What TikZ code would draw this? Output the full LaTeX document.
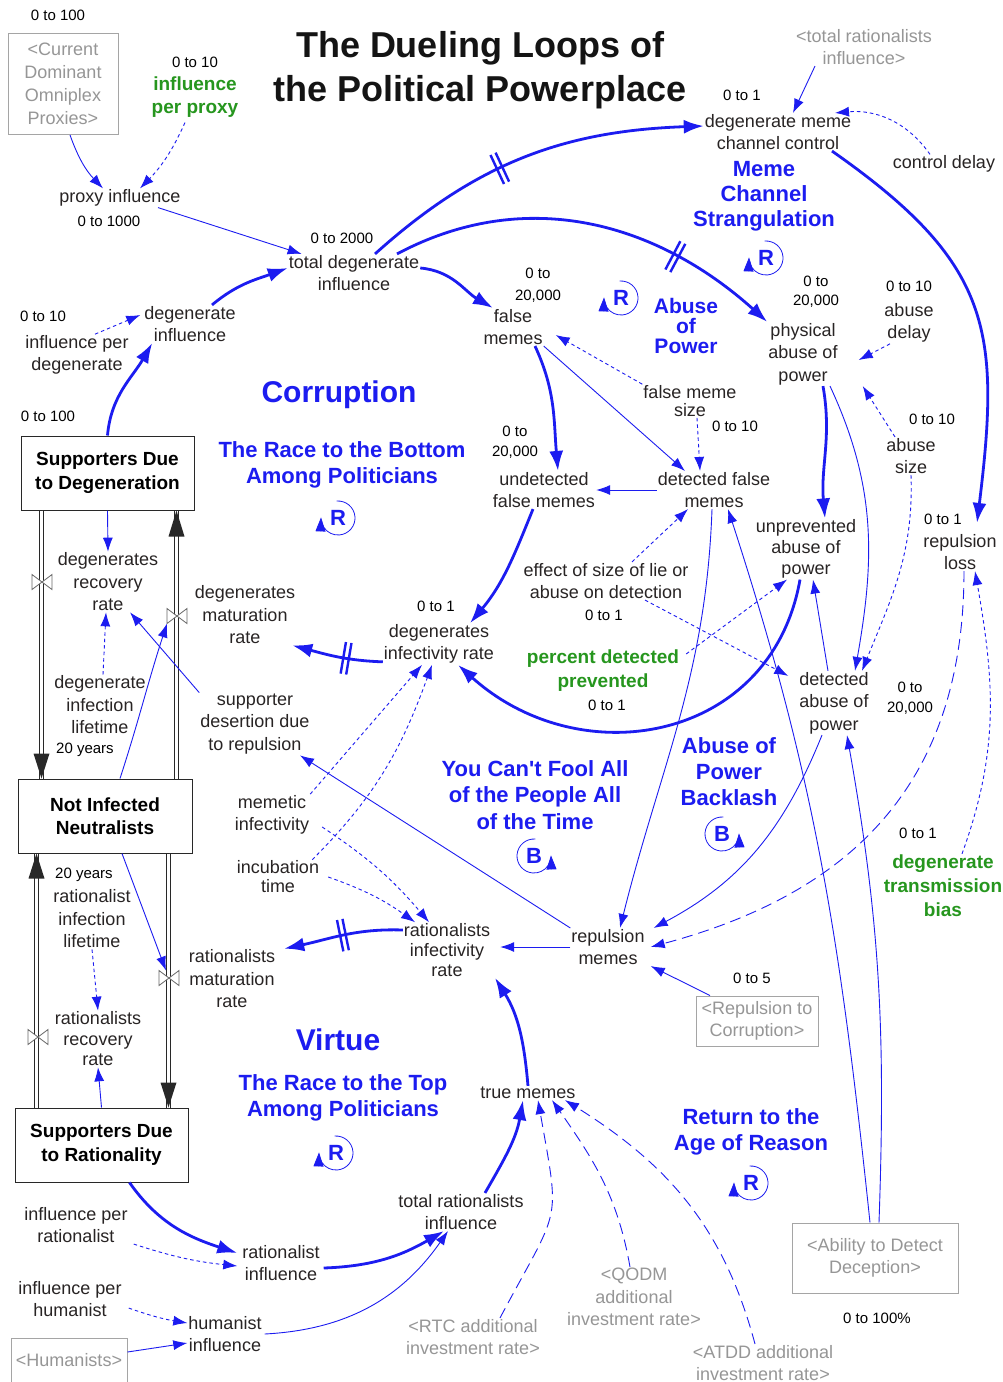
\documentclass[tikz,border=0pt]{standalone}
\usepackage{fontspec}
\setmainfont{Liberation Sans}[Ligatures=TeXOff]
\usetikzlibrary{arrows.meta,decorations.markings}

\definecolor{lblue}{RGB}{28,28,240}
\definecolor{vtext}{RGB}{40,36,36}
\definecolor{grn}{RGB}{38,150,30}
\definecolor{shade}{RGB}{150,150,150}
\definecolor{shadebox}{RGB}{165,165,165}
\definecolor{pipeink}{RGB}{40,40,40}

\tikzset{
  x=1pt, y=1pt,
  varb/.style={text=vtext, align=center, inner sep=1pt, font=\fontsize{18}{22.5}\selectfont},
  rng/.style={text=black, align=center, inner sep=1pt, font=\fontsize{15}{19}\selectfont},
  ghost/.style={varb, text=shade},
  ghostbox/.style={ghost, draw=shadebox, line width=1pt, inner sep=0pt},
  stockbox/.style={draw=pipeink, line width=1pt, fill=white, text=black, align=center,
    font=\bfseries\fontsize{19}{23.5}\selectfont, minimum width=173pt, minimum height=74pt, inner sep=0pt},
  loopname/.style={text=lblue, align=center, inner sep=1pt, font=\bfseries\fontsize{22}{26}\selectfont},
  bigloop/.style={text=lblue, inner sep=1pt, font=\bfseries\fontsize{30}{34}\selectfont},
  constv/.style={text=grn, align=center, inner sep=1pt, font=\bfseries\fontsize{19}{24}\selectfont},
  lk/.style={draw=lblue, line width=0.9pt, -{Latex[length=14pt,width=10pt]}},
  dlk/.style={lk, dash pattern=on 3.5pt off 3pt},
  ldlk/.style={lk, dash pattern=on 11pt off 6pt},
  tlk/.style={draw=lblue, line width=2.8pt, -{Latex[length=20pt,width=14pt]}},
  delaymark/.style={postaction={decorate, decoration={markings, mark=at position #1 with
    {\draw[lblue, line width=2.4pt, solid, arrows=-] (-2.8,-16)--(-2.8,16) (2.8,-16)--(2.8,16);}}}},
  pipe/.style={draw=pipeink, line width=1pt, double=white, double distance=3.2pt},
  valvebox/.style={minimum width=20pt, minimum height=15pt, inner sep=0pt, outer sep=0pt},
  loopletter/.style={text=lblue, inner sep=0pt, font=\bfseries\fontsize{22}{24}\selectfont},
}

% reinforcing loop marker: letter with a clockwise arrow ending on its left
\newcommand\loopR[3]{%
  \node[loopletter] (#1) at (#2,#3) {R};
  \draw[lblue, line width=0.8pt, -{Triangle[length=14pt,width=10pt]}]
    ([shift={(95:17)}]#1.center) arc[start angle=95, end angle=-182, radius=17];}
% balancing loop marker: letter with a counter-clockwise arrow ending on its right
\newcommand\loopB[3]{%
  \node[loopletter] (#1) at (#2,#3) {B};
  \draw[lblue, line width=0.8pt, -{Triangle[length=14pt,width=10pt]}]
    ([shift={(85:17)}]#1.center) arc[start angle=85, end angle=362, radius=17];}

\begin{document}
\begin{tikzpicture}
\fill[white] (0,0) rectangle (1002,-1382);
\useasboundingbox (0,0) rectangle (1002,-1382);

% ---------- title ----------
\node[text=black!92, align=center, inner sep=1pt, font=\bfseries\fontsize{36}{44}\selectfont]
  (title) at (480,-70) {The Dueling Loops of\\the Political Powerplace};

% ---------- variables ----------
\node[rng] (rCDOP) at (58,-15) {0 to 100};
\node[ghostbox, minimum width=110pt, minimum height=101pt, font=\fontsize{18}{23}\selectfont]
  (nCDOP) at (63,-84) {<Current\\Dominant\\Omniplex\\Proxies>};
\node[rng] (rIPP) at (195,-62) {0 to 10};
\node[constv, font=\bfseries\fontsize{19}{23}\selectfont] (nIPP) at (195,-97) {influence\\per proxy};
\node[varb] (nPI) at (120,-198) {proxy influence};
\node[rng] (rPI) at (109,-221) {0 to 1000};
\node[varb] (nTDI) at (354,-273) {total degenerate\\influence};
\node[rng] (rTDI) at (342,-238) {0 to 2000};
\node[varb] (nIPD) at (77,-355) {influence per\\degenerate};
\node[rng] (rIPD) at (43,-316) {0 to 10};
\node[varb] (nDI) at (190,-324) {degenerate\\influence};
\node[stockbox] (sDeg) at (107.5,-473) {Supporters Due\\to Degeneration};
\node[rng] (rSDeg) at (48,-416) {0 to 100};

\node[ghost] (nTRIg) at (864,-47) {<total rationalists\\influence>};
\node[varb] (nDMCC) at (778,-132) {degenerate meme\\channel control};
\node[rng] (rDMCC) at (742,-95) {0 to 1};
\node[varb] (nCD) at (944,-164) {control delay};
\node[loopname, font=\bfseries\fontsize{22}{25}\selectfont] (lMCS) at (764,-196) {Meme\\Channel\\Strangulation};
\loopR{sMCS}{766}{-258}

\node[varb] (nFM) at (513,-327) {false\\memes};
\node[rng, font=\fontsize{15}{22}\selectfont] (rFM) at (538,-285) {0 to\\20,000};
\loopR{sAOP}{621}{-298}
\node[loopname, font=\bfseries\fontsize{21}{20}\selectfont] (lAOP) at (686,-326) {Abuse\\of\\Power};
\node[varb] (nPAP) at (803,-354) {physical\\abuse of\\power};
\node[rng] (rPAP) at (816,-292) {0 to\\20,000};
\node[varb] (nAD) at (909,-323) {abuse\\delay};
\node[rng] (rAD) at (909,-286) {0 to 10};
\node[varb] (nAS) at (911,-456) {abuse\\size};
\node[rng] (rAS) at (932,-419) {0 to 10};

\node[bigloop] (lCor) at (339,-395) {Corruption};
\node[loopname] (lRB) at (342,-465) {The Race to the Bottom\\Among Politicians};
\loopR{sRB}{338}{-518}

\node[varb, font=\fontsize{18}{18}\selectfont] (nFMS) at (690,-401) {false meme\\size};
\node[rng] (rFMS) at (735,-426) {0 to 10};
\node[varb] (nUFM) at (544,-490) {undetected\\false memes};
\node[rng, font=\fontsize{15}{20}\selectfont] (rUFM) at (515,-442) {0 to\\20,000};
\node[varb] (nDFM) at (714,-490) {detected false\\memes};
\node[varb] (nDIR) at (439,-644) {degenerates\\infectivity rate};
\node[rng] (rDIR) at (436,-606) {0 to 1};
\node[varb] (nEff) at (606,-581) {effect of size of lie or\\abuse on detection};
\node[rng] (rEff) at (604,-615) {0 to 1};
\node[varb, font=\fontsize{18}{21}\selectfont] (nUAP) at (806,-549) {unprevented\\abuse of\\power};
\node[constv] (nPDP) at (603,-671) {percent detected\\prevented};
\node[rng] (rPDP) at (607,-705) {0 to 1};
\node[varb] (nDAP) at (834,-703) {detected\\abuse of\\power};
\node[rng, font=\fontsize{15}{20}\selectfont] (rDAP) at (910,-698) {0 to\\20,000};
\node[varb] (nRL) at (960,-552) {repulsion\\loss};
\node[rng] (rRL) at (943,-519) {0 to 1};

\node[loopname] (lAPB) at (729,-772) {Abuse of\\Power\\Backlash};
\loopB{sAPB}{722}{-834}
\node[loopname, font=\bfseries\fontsize{22}{26.5}\selectfont] (lFool) at (535,-795)
  {You Can't Fool All\\of the People All\\of the Time};
\loopB{sFool}{534}{-856}
\node[constv] (nDTB) at (943,-886) {degenerate\\transmission\\bias};
\node[rng] (rDTB) at (918,-833) {0 to 1};

\node[varb] (nDRR) at (108,-582) {degenerates\\recovery\\rate};
\node[varb] (nDMR) at (245,-615) {degenerates\\maturation\\rate};
\node[varb] (nDIL) at (100,-705) {degenerate\\infection\\lifetime};
\node[rng] (rDIL) at (85,-750) {20 years};
\node[varb] (nSDR) at (255,-724) {supporter\\desertion due\\to repulsion};
\node[stockbox, minimum width=174pt] (sNIN) at (105,-816) {Not Infected\\Neutralists};
\node[varb] (nMI) at (272,-815) {memetic\\infectivity};
\node[varb, font=\fontsize{18}{19}\selectfont] (nIT) at (278,-877) {incubation\\time};

\node[varb] (nRIL) at (92,-919) {rationalist\\infection\\lifetime};
\node[rng] (rRIL) at (84,-875) {20 years};
\node[varb, font=\fontsize{18}{20.5}\selectfont] (nRRR) at (98,-1039) {rationalists\\recovery\\rate};
\node[varb] (nRMR) at (232,-979) {rationalists\\maturation\\rate};
\node[varb, font=\fontsize{18}{20}\selectfont] (nRIR) at (447,-950) {rationalists\\infectivity\\rate};
\node[varb] (nRM) at (608,-947) {repulsion\\memes};
\node[ghostbox, minimum width=122pt, minimum height=50pt] (nRTC) at (757,-1021) {<Repulsion to\\Corruption>};
\node[rng] (rRTC) at (752,-978) {0 to 5};

\node[bigloop] (lVir) at (338,-1040) {Virtue};
\node[loopname] (lRT) at (343,-1098) {The Race to the Top\\Among Politicians};
\loopR{sRT}{336}{-1153}
\node[varb] (nTM) at (528,-1093) {true memes};
\node[stockbox] (sRat) at (101.5,-1145) {Supporters Due\\to Rationality};
\node[varb] (nIPR) at (76,-1225) {influence per\\rationalist};
\node[varb] (nRI) at (281,-1263) {rationalist\\influence};
\node[varb] (nTRI) at (461,-1212) {total rationalists\\influence};
\node[varb] (nIPH) at (70,-1299) {influence per\\humanist};
\node[varb] (nHI) at (225,-1334) {humanist\\influence};
\node[ghostbox, minimum width=116pt, minimum height=44pt] (nHum) at (69,-1360) {<Humanists>};
\node[loopname] (lRAR) at (751,-1132) {Return to the\\Age of Reason};
\loopR{sRAR}{751}{-1183}
\node[ghost] (nRTCa) at (473,-1337) {<RTC additional\\investment rate>};
\node[ghost] (nQODM) at (634,-1297) {<QODM\\additional\\investment rate>};
\node[ghost] (nATDD) at (763,-1363) {<ATDD additional\\investment rate>};
\node[ghostbox, minimum width=166pt, minimum height=70pt] (nADD) at (875,-1258) {<Ability to Detect\\Deception>};
\node[rng] (rADD) at (877,-1318) {0 to 100\%};

% ---------- flows between the stocks ----------
\node[valvebox] (vDR) at (42,-582) {};
\node[valvebox] (vDM) at (177,-616) {};
\node[valvebox] (vRR) at (38,-1037) {};
\node[valvebox] (vRM) at (169,-978) {};

\coordinate (p1a) at ([xshift=21]sDeg.south west);
\coordinate (p1b) at ([xshift=24]sNIN.north west);
\coordinate (p2a) at ([xshift=159]sNIN.north west);
\coordinate (p2b) at ([xshift=156]sDeg.south west);
\coordinate (p3a) at ([xshift=22]sRat.north west);
\coordinate (p3b) at ([xshift=19]sNIN.south west);
\coordinate (p4a) at ([xshift=151]sNIN.south west);
\coordinate (p4b) at ([xshift=154]sRat.north west);

\draw[pipe] (p1a) -- (p1b);
\draw[pipe] (p2a) -- (p2b);
\draw[pipe] (p3a) -- (p3b);
\draw[pipe] (p4a) -- (p4b);
\fill[pipeink] ([shift={(-8,25)}]p1b) -- ([shift={(8,25)}]p1b) -- (p1b) -- cycle;
\fill[pipeink] ([shift={(-8,-26)}]p2b) -- ([shift={(8,-26)}]p2b) -- (p2b) -- cycle;
\fill[pipeink] ([shift={(-8,-25)}]p3b) -- ([shift={(8,-25)}]p3b) -- (p3b) -- cycle;
\fill[pipeink] ([shift={(-8,25)}]p4b) -- ([shift={(8,25)}]p4b) -- (p4b) -- cycle;
\foreach \v in {vDR,vDM,vRR,vRM}
  \draw[draw=black!60, fill=white, line width=0.8pt]
    (\v.north west) -- (\v.south west) -- (\v.north east) -- (\v.south east) -- cycle;

% ---------- links: corruption side ----------
\draw[lk] ([xshift=7]nCDOP.south) to[bend right=12] ([xshift=-17]nPI.north);
\draw[dlk] ([xshift=-10,yshift=-4]nIPP.south) to[bend left=10] ([xshift=20]nPI.north);
\draw[lk] ([xshift=38]nPI.south) -- (nTDI.160);
\draw[dlk] ([xshift=18]nIPD.north) -- ([xshift=-3,yshift=9]nDI.west);
\draw[tlk] (sDeg.north) to[out=85,in=-120] ([xshift=9]nDI.south west);
\draw[tlk] ([xshift=22]nDI.north) to[out=40,in=-160] ([yshift=5]nTDI.west);
\draw[tlk] ([yshift=5]nTDI.east) to[out=-5,in=150] ([xshift=-20]nFM.north);
\draw[tlk, delaymark=0.42] ([xshift=21]nTDI.north) to[out=42,in=182] ([yshift=6]nDMCC.west);
\draw[tlk, delaymark=0.72] ([xshift=43]nTDI.north) to[out=28,in=138] (nPAP.north west);
\draw[lk] ([xshift=-49]nTRIg.south) -- ([xshift=15]nDMCC.north);
\draw[dlk] ([xshift=-14]nCD.north) to[out=125,in=5] ([xshift=57]nDMCC.north);
\draw[tlk] ([xshift=54]nDMCC.south) to[out=-35,in=83,looseness=1.25] ([xshift=17,yshift=10]nRL.north);
\draw[tlk] ([xshift=20]nPAP.south) to[out=-80,in=95] ([xshift=19]nUAP.north);
\draw[lk] ([xshift=27]nPAP.south) to[out=-65,in=80] ([xshift=21]nDAP.north);
\draw[dlk] ([xshift=-19]nAD.south) -- ([xshift=20,yshift=-6]nPAP.east);
\draw[dlk] ([xshift=-16]nAS.north) -- ([xshift=24]nPAP.south east);
\draw[dlk] (nAS.south) to[out=-88,in=68] ([xshift=28]nDAP.north);
\draw[dlk] (nFMS.north west) -- ([xshift=12,yshift=-8]nFM.east);
\draw[dlk] ([xshift=7]nFMS.south) -- ([xshift=-14]nDFM.north);
\draw[lk] (nFM.south east) -- ([xshift=-29]nDFM.north);
\draw[tlk] ([xshift=22]nFM.south) to[out=-65,in=95] ([xshift=14]nUFM.north);
\draw[lk] (nDFM.west) -- (nUFM.east);
\draw[tlk] ([xshift=-11]nUFM.south) to[out=-112,in=50] ([xshift=31]nDIR.north);
\draw[tlk, delaymark=0.4] ([yshift=3]nDIR.south west) to[out=178,in=-15] ([xshift=-4]nDMR.south east);
\draw[tlk] ([xshift=-6]nUAP.south) to[out=-100,in=-42,looseness=1.2] ([xshift=19]nDIR.south);
\draw[dlk] ([xshift=26]nEff.north) -- ([xshift=-26]nDFM.south);
\draw[dlk] ([xshift=39]nEff.south) -- ([xshift=-10,yshift=-5]nDAP.north west);
\draw[dlk] ([xshift=6,yshift=-5]nPDP.north east) -- ([xshift=-19]nUAP.south);
\draw[lk] ([xshift=-6]nDAP.north) -- ([xshift=7]nUAP.south);
\draw[lk] ([xshift=-2]nDFM.south) to[out=-92,in=76] ([xshift=12]nRM.north);
\draw[lk] ([xshift=-5]nADD.north) to[out=96,in=-72] ([xshift=14]nDFM.south);
\draw[lk] ([xshift=4]nADD.north) to[out=88,in=-80] ([xshift=13]nDAP.south);
\draw[lk] ([xshift=-12]nDAP.south) to[out=-112,in=28] ([xshift=8]nRM.north east);
\draw[ldlk] ([xshift=4]nRL.south) to[out=-90,in=15,looseness=1.1] ([xshift=5]nRM.east);
\draw[dlk] ([xshift=19]nDTB.north) to[out=70,in=-80] ([xshift=15]nRL.south);

% ---------- links: around the stocks ----------
\draw[lk] (sDeg.south) -- (nDRR.north);
\draw[dlk] ([xshift=3]nDIL.north) -- ([xshift=-2]nDRR.south);
\draw[lk] (nSDR.north west) -- ([xshift=22]nDRR.south);
\draw[lk] ([xshift=15]sNIN.north) to[out=72,in=-108] (vDM.south west);
\draw[dlk] (nMI.north east) -- ([xshift=-17]nDIR.south);
\draw[dlk] ([xshift=-8]nIT.north east) to[out=45,in=-110] ([xshift=-7]nDIR.south);
\draw[dlk] ([xshift=12,yshift=-12]nMI.east) to[bend left=8] ([xshift=-18]nRIR.north);
\draw[dlk] ([xshift=8]nIT.east) to[bend left=8] ([xshift=-32]nRIR.north);
\draw[tlk, delaymark=0.5] ([yshift=20]nRIR.west) to[out=178,in=12] ([xshift=8]nRMR.north east);
\draw[lk] (nRM.west) -- ([xshift=9,yshift=3]nRIR.east);
\draw[lk] ([xshift=-47]nRTC.north) -- ([xshift=5]nRM.south east);
\draw[lk] (nRM.north west) -- ([xshift=45]nSDR.south);
\draw[tlk] (nTM.north) to[out=95,in=-58] ([xshift=48]nRIR.south);
\draw[lk] (sRat.north) -- (nRRR.south);
\draw[dlk] (nRIL.south) -- (nRRR.north);
\draw[lk] ([xshift=17]sNIN.south) -- ([xshift=-3]vRM.north);

% ---------- links: virtue side ----------
\draw[tlk] ([xshift=28]sRat.south) to[out=-55,in=162] ([xshift=-4,yshift=10]nRI.west);
\draw[dlk] ([xshift=5]nIPR.south east) to[bend right=6] ([xshift=-4,yshift=-3]nRI.west);
\draw[tlk] ([xshift=3,yshift=-5]nRI.east) to[out=2,in=-150] ([xshift=-17]nTRI.south);
\draw[tlk] ([xshift=24]nTRI.north) to[out=60,in=-100] ([xshift=-5]nTM.south);
\draw[ldlk] ([xshift=27]nRTCa.north) to[out=62,in=-80,looseness=1.5] ([xshift=10]nTM.south);
\draw[ldlk] ([xshift=-4]nQODM.north) to[out=100,in=-55] ([xshift=24]nTM.south);
\draw[ldlk] ([xshift=-8]nATDD.north) to[out=105,in=-32] ([xshift=37]nTM.south);
\draw[dlk] ([xshift=6,yshift=10]nIPH.south east) to[bend right=5] ([yshift=11]nHI.west);
\draw[lk] ([yshift=8]nHum.east) -- ([yshift=-9]nHI.west);
\draw[lk] ([xshift=2]nHI.east) to[out=3,in=-125] ([xshift=-13]nTRI.south);
\end{tikzpicture}
\end{document}
